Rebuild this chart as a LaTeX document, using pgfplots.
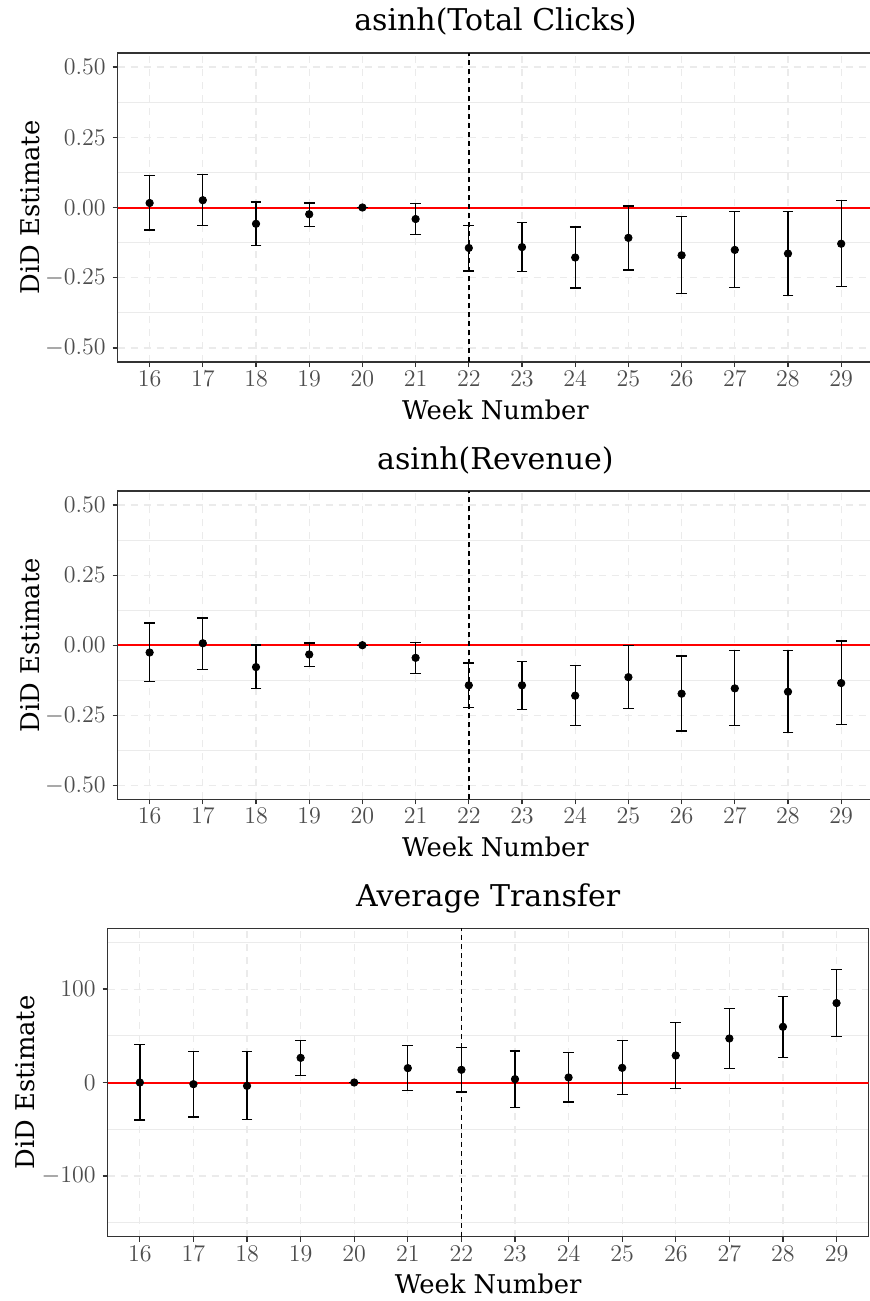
\documentclass[border=0pt]{standalone}
\usepackage{fontspec}
\setmainfont{DejaVu Serif}
\usepackage{pgfplots}
\pgfplotsset{compat=1.18}
\usepackage{pgfplotstable}
\definecolor{gridc}{HTML}{EBEBEB}
\definecolor{greyA}{HTML}{333333}
\definecolor{greyB}{HTML}{4D4D4D}

\pgfplotstableread{
x y lo hi
16 0.016 -0.080 0.114
17 0.026 -0.063 0.118
18 -0.058 -0.135 0.020
19 -0.024 -0.068 0.016
20 0 0 0
21 -0.041 -0.096 0.015
22 -0.144 -0.226 -0.065
23 -0.141 -0.229 -0.053
24 -0.178 -0.287 -0.069
25 -0.108 -0.222 0.005
26 -0.170 -0.306 -0.033
27 -0.151 -0.285 -0.014
28 -0.164 -0.312 -0.014
29 -0.129 -0.282 0.024
}\clicks

\pgfplotstableread{
x y lo hi
16 -0.026 -0.130 0.079
17 0.007 -0.086 0.097
18 -0.078 -0.155 0.001
19 -0.033 -0.076 0.008
20 0 0 0
21 -0.045 -0.100 0.009
22 -0.143 -0.223 -0.063
23 -0.143 -0.229 -0.057
24 -0.180 -0.287 -0.072
25 -0.114 -0.225 -0.002
26 -0.173 -0.306 -0.039
27 -0.154 -0.287 -0.020
28 -0.166 -0.312 -0.018
29 -0.135 -0.284 0.015
}\revenue

\pgfplotstableread{
x y lo hi
16 0 -40 40.4
17 -1.8 -36.8 32.9
18 -3.6 -39.3 32.9
19 26.4 7.5 45
20 0 0 0
21 15.4 -8.6 39.6
22 13.6 -10 37.5
23 3.6 -27.1 33.6
24 5.4 -20.7 31.8
25 15.7 -13.2 45
26 28.9 -6.1 63.9
27 47.1 15 79.3
28 59.6 26.4 92.1
29 85 49.6 120.7
}\transfer

\pgfplotsset{
  didstyle/.style={
    scale only axis,
    xmin=15.4, xmax=29.6,
    xtick={16,...,29},
    xtick pos=bottom, ytick pos=left,
    axis line style={greyA, line width=0.6pt},
    tick style={greyA, line width=0.6pt},
    tick align=outside,
    major tick length=2.5pt,
    minor tick length=0pt,
    xmajorgrids, ymajorgrids, yminorgrids,
    major grid style={gridc, line width=0.55pt, dash pattern=on 3.5pt off 3pt},
    minor grid style={gridc, line width=0.45pt, solid},
    ticklabel style={font=\fontsize{12.6}{14}\selectfont, text=greyB},
    xticklabel style={yshift=1.5pt},
    title style={at={(0.5,1)}, anchor=base, yshift=5pt, font=\fontsize{15}{18}\selectfont},
    xlabel={Week Number},
    ylabel={DiD Estimate},
    label style={font=\fontsize{12.9}{15}\selectfont},
    xlabel style={at={(axis description cs:0.5,0)}, anchor=base, yshift=-28.5pt},
    ylabel style={anchor=base},
  },
  estpts/.style={only marks, mark=*, mark size=1.85pt, black,
    error bars/.cd, y dir=both, y explicit,
    error bar style={line width=0.65pt, black},
    error mark options={line width=0.65pt, mark size=2.7pt, black, rotate=90}},
}

\begin{document}
\begin{tikzpicture}
\useasboundingbox (0,0) rectangle (435pt,-650.5pt);

% Panel 1
\begin{axis}[didstyle,
  at={(58.85pt,-26.5pt)}, anchor=north west,
  width=377.7pt, height=154.5pt,
  ymin=-0.55, ymax=0.55,
  ytick={-0.5,-0.25,0,0.25,0.5},
  yticklabels={$-0.50$,$-0.25$,$0.00$,$0.25$,$0.50$},
  minor ytick={-0.375,-0.125,0.125,0.375},
  ylabel style={at={(axis description cs:-0.1033,0.5)}},
  title={asinh(Total Clicks)}]
\addplot[red, line width=1pt] coordinates {(15.4,0) (29.6,0)};
\addplot[black, line width=0.7pt, dash pattern=on 2.5pt off 2pt] coordinates {(22,-0.55) (22,0.55)};
\addplot[estpts] table[x=x, y=y, y error plus expr=\thisrow{hi}-\thisrow{y}, y error minus expr=\thisrow{y}-\thisrow{lo}] {\clicks};
\end{axis}

% Panel 2
\begin{axis}[didstyle,
  at={(58.85pt,-245.5pt)}, anchor=north west,
  width=377.7pt, height=154.2pt,
  ymin=-0.55, ymax=0.55,
  ytick={-0.5,-0.25,0,0.25,0.5},
  yticklabels={$-0.50$,$-0.25$,$0.00$,$0.25$,$0.50$},
  minor ytick={-0.375,-0.125,0.125,0.375},
  ylabel style={at={(axis description cs:-0.1033,0.5)}},
  title={asinh(Revenue)}]
\addplot[red, line width=1pt] coordinates {(15.4,0) (29.6,0)};
\addplot[black, line width=0.7pt, dash pattern=on 2.5pt off 2pt] coordinates {(22,-0.55) (22,0.55)};
\addplot[estpts] table[x=x, y=y, y error plus expr=\thisrow{hi}-\thisrow{y}, y error minus expr=\thisrow{y}-\thisrow{lo}] {\revenue};
\end{axis}

% Panel 3
\begin{axis}[didstyle,
  at={(53.85pt,-464.15pt)}, anchor=north west,
  width=380.5pt, height=154.2pt,
  ymin=-165, ymax=165,
  ytick={-100,0,100},
  minor ytick={-150,-50,50,150},
  ylabel style={at={(axis description cs:-0.0957,0.5)}},
  title={Average Transfer}]
\addplot[red, line width=1pt] coordinates {(15.4,0) (29.6,0)};
\addplot[black, line width=0.7pt, dash pattern=on 2.5pt off 2pt] coordinates {(22,-165) (22,165)};
\addplot[estpts] table[x=x, y=y, y error plus expr=\thisrow{hi}-\thisrow{y}, y error minus expr=\thisrow{y}-\thisrow{lo}] {\transfer};
\end{axis}
\end{tikzpicture}
\end{document}
